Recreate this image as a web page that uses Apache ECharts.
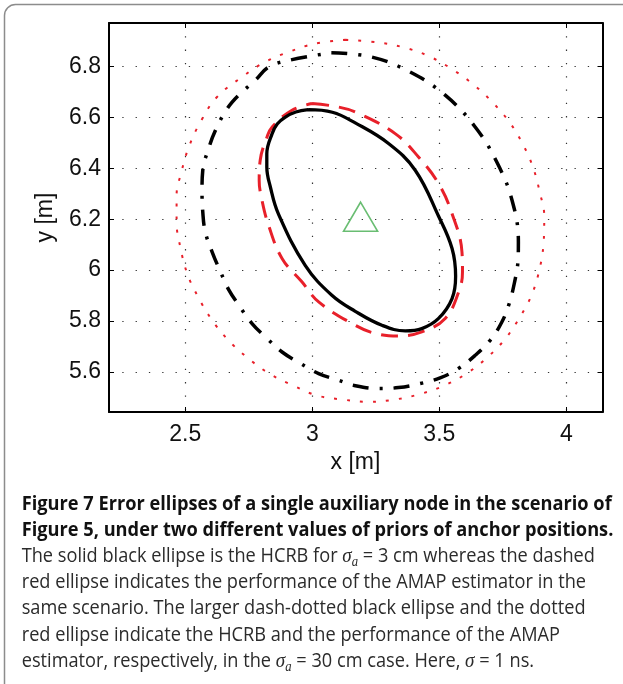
<!DOCTYPE html>
<html>
<head>
<meta charset="utf-8">
<script src="https://cdn.jsdelivr.net/npm/echarts@6/dist/echarts.min.js"></script>
<style>
  html, body { margin: 0; padding: 0; background: #fff; }
  #chart { width: 623px; height: 684px; }
</style>
</head>
<body>
<div id="chart"></div>
<script>
// Tick positions of the two axes
const xTicks = [2.5, 3, 3.5, 4];
const yTicks = [5.6, 5.8, 6, 6.2, 6.4, 6.6, 6.8];

// HCRB ellipse, sigma_a = 3 cm (solid black)
const hcrb3cm = [
  [2.984, 6.631], [3.079, 6.621], [3.169, 6.579], [3.300, 6.498], [3.405, 6.393],
  [3.497, 6.212], [3.550, 6.085], [3.564, 5.976], [3.550, 5.888], [3.497, 5.810],
  [3.431, 5.770], [3.366, 5.761], [3.274, 5.783], [3.169, 5.838], [3.077, 5.901],
  [2.972, 6.019], [2.867, 6.220], [2.835, 6.327], [2.821, 6.406], [2.821, 6.458],
  [2.842, 6.537], [2.862, 6.575], [2.894, 6.602], [2.935, 6.622], [2.984, 6.631]
];

// AMAP estimator ellipse, sigma_a = 3 cm (dashed red)
const amap3cm = [
  [2.999, 6.655], [3.090, 6.644], [3.169, 6.622], [3.326, 6.537], [3.418, 6.445],
  [3.497, 6.340], [3.550, 6.222], [3.589, 6.071], [3.591, 5.993], [3.576, 5.914],
  [3.523, 5.810], [3.431, 5.757], [3.339, 5.741], [3.248, 5.751], [3.169, 5.783],
  [3.025, 5.875], [2.959, 5.954], [2.881, 6.046], [2.828, 6.176], [2.802, 6.275],
  [2.791, 6.353], [2.795, 6.432], [2.822, 6.524], [2.842, 6.563], [2.920, 6.629],
  [2.999, 6.655]
];

// HCRB ellipse, sigma_a = 30 cm (dash-dotted black)
const hcrb30cm = [
  [3.075, 6.855], [3.235, 6.838], [3.385, 6.779], [3.523, 6.688], [3.641, 6.563],
  [3.726, 6.425], [3.786, 6.275], [3.811, 6.111], [3.809, 6.032], [3.796, 5.953],
  [3.775, 5.869], [3.746, 5.796], [3.700, 5.724], [3.641, 5.665], [3.575, 5.613],
  [3.503, 5.576], [3.425, 5.554], [3.339, 5.538], [3.261, 5.534], [3.162, 5.547],
  [3.103, 5.567], [3.025, 5.593], [2.953, 5.633], [2.881, 5.678], [2.822, 5.731],
  [2.763, 5.790], [2.711, 5.862], [2.672, 5.921], [2.639, 5.993], [2.606, 6.071],
  [2.579, 6.150], [2.569, 6.229], [2.566, 6.314], [2.569, 6.393], [2.592, 6.478],
  [2.619, 6.550], [2.665, 6.635], [2.710, 6.688], [2.776, 6.747], [2.828, 6.799],
  [2.907, 6.825], [3.075, 6.855]
];

// AMAP estimator ellipse, sigma_a = 30 cm (dotted red)
const amap30cm = [
  [3.130, 6.906], [3.263, 6.895], [3.363, 6.875], [3.460, 6.841], [3.549, 6.791],
  [3.634, 6.730], [3.708, 6.661], [3.775, 6.583], [3.827, 6.498], [3.868, 6.406],
  [3.895, 6.307], [3.913, 6.209], [3.912, 6.157], [3.910, 6.102], [3.894, 6.003],
  [3.864, 5.904], [3.818, 5.817], [3.760, 5.731], [3.689, 5.657], [3.608, 5.594],
  [3.517, 5.545], [3.422, 5.512], [3.324, 5.491], [3.221, 5.482], [3.119, 5.491],
  [3.018, 5.507], [2.923, 5.547], [2.831, 5.593], [2.742, 5.658], [2.667, 5.727],
  [2.603, 5.807], [2.551, 5.894], [2.508, 5.986], [2.481, 6.089], [2.466, 6.189],
  [2.466, 6.294], [2.485, 6.386], [2.514, 6.484], [2.560, 6.583], [2.625, 6.681],
  [2.724, 6.760], [2.815, 6.819], [2.907, 6.858], [3.012, 6.891], [3.130, 6.906]
];

// True position of the auxiliary node
const nodePos = [[3.19, 6.21]];

// Caption
const captionBold = [
  'Figure 7 Error ellipses of a single auxiliary node in the scenario of',
  'Figure 5, under two different values of priors of anchor positions.'
];
const captionBody = [
  'The solid black ellipse is the HCRB for {m|σ}{sub|a}{t| = 3 cm whereas the dashed}',
  'red ellipse indicates the performance of the AMAP estimator in the',
  'same scenario. The larger dash-dotted black ellipse and the dotted',
  'red ellipse indicate the HCRB and the performance of the AMAP',
  'estimator, respectively, in the {m|σ}{sub|a}{t| = 30 cm case. Here, }{m|σ}{t| = 1 ns.}'
];

const chart = echarts.init(document.getElementById('chart'), null, { renderer: 'canvas' });

const AXIS_FONT = 'Liberation Sans';
const AXIS_SIZE = 23;
const CAP_FONT = 'Open Sans';
const CAP_SIZE = 20;

function textWidth(text, font) {
  const ctx = document.createElement('canvas').getContext('2d');
  ctx.font = font;
  return ctx.measureText(text).width;
}
// horizontal compression so the caption keeps its narrow face
const boldScale = 590 / textWidth(captionBold[0], 'bold ' + CAP_SIZE + 'px "' + CAP_FONT + '"');
const bodyScale = 564.3 / textWidth(captionBody[1], CAP_SIZE + 'px "' + CAP_FONT + '"');

const capLeft = 21.7;
const baselines = [511, 537.3, 563.3, 589.3, 615.3, 642, 668.3];

const richStyles = {
  t: { fontSize: CAP_SIZE, fontFamily: CAP_FONT, fill: '#2b2b2b', lineHeight: 26 },
  m: { fontSize: CAP_SIZE + 1, fontFamily: 'Liberation Serif', fontStyle: 'italic', fill: '#2b2b2b', lineHeight: 26 },
  sub: { fontSize: 14, fontFamily: 'Liberation Serif', fontStyle: 'italic', fill: '#2b2b2b', lineHeight: 14, verticalAlign: 'bottom' }
};

const graphics = [
  {
    type: 'rect', silent: true, z: 0,
    shape: { x: 4.5, y: 4.5, width: 720, height: 760, r: 11 },
    style: { fill: 'none', stroke: '#8c8c8c', lineWidth: 1.5 }
  },
  {
    type: 'text', x: 355.5, y: 463, silent: true,
    style: { text: 'x [m]', font: AXIS_SIZE + 'px "' + AXIS_FONT + '"', fill: '#111', align: 'center', verticalAlign: 'middle' }
  },
  {
    type: 'text', x: 46, y: 217.5, rotation: Math.PI / 2, silent: true,
    style: { text: 'y [m]', font: AXIS_SIZE + 'px "' + AXIS_FONT + '"', fill: '#111', align: 'center', verticalAlign: 'middle' }
  }
];

captionBold.forEach((line, i) => {
  graphics.push({
    type: 'text', x: capLeft, y: baselines[i] - 7, scaleX: boldScale, silent: true,
    style: {
      text: line, font: 'bold ' + CAP_SIZE + 'px "' + CAP_FONT + '"',
      fill: '#111', align: 'left', verticalAlign: 'middle'
    }
  });
});
captionBody.forEach((line, i) => {
  graphics.push({
    type: 'text', x: capLeft, y: baselines[i + 2] - 7, scaleX: bodyScale, silent: true,
    style: {
      text: line, fontSize: CAP_SIZE, fontFamily: CAP_FONT,
      fill: '#2b2b2b', align: 'left', verticalAlign: 'middle', lineHeight: 26,
      rich: richStyles
    }
  });
});

const gridLine = { show: true, lineStyle: { color: '#333', width: 1.2, type: [1.3, 12] } };
const lineBase = { type: 'line', showSymbol: false, symbol: 'none', smooth: 0.4, animation: false, silent: true, clip: false };

chart.setOption({
  animation: false,
  backgroundColor: '#fff',
  grid: { left: 109, top: 23, width: 493.5, height: 389, containLabel: false },
  xAxis: [
    {
      type: 'value', min: 2.2, max: 4.142, position: 'bottom',
      axisLine: { onZero: false, lineStyle: { color: '#000', width: 2 } },
      axisTick: { inside: true, length: 5, customValues: xTicks, lineStyle: { color: '#000', width: 1 } },
      axisLabel: { customValues: xTicks, margin: 11, color: '#111', fontSize: AXIS_SIZE, fontFamily: AXIS_FONT },
      splitLine: gridLine
    },
    {
      type: 'value', min: 2.2, max: 4.142, position: 'top',
      axisLine: { onZero: false, lineStyle: { color: '#000', width: 2 } },
      axisTick: { inside: true, length: 5, customValues: xTicks, lineStyle: { color: '#000', width: 1 } },
      axisLabel: { show: false },
      splitLine: { show: false }
    }
  ],
  yAxis: [
    {
      type: 'value', min: 5.442, max: 6.972, position: 'left',
      axisLine: { onZero: false, lineStyle: { color: '#000', width: 2 } },
      axisTick: { inside: true, length: 5, customValues: yTicks, lineStyle: { color: '#000', width: 1 } },
      axisLabel: { customValues: yTicks, margin: 8, color: '#111', fontSize: AXIS_SIZE, fontFamily: AXIS_FONT },
      splitLine: gridLine
    },
    {
      type: 'value', min: 5.442, max: 6.972, position: 'right',
      axisLine: { onZero: false, lineStyle: { color: '#000', width: 2 } },
      axisTick: { inside: true, length: 5, customValues: yTicks, lineStyle: { color: '#000', width: 1 } },
      axisLabel: { show: false },
      splitLine: { show: false }
    }
  ],
  series: [
    Object.assign({}, lineBase, {
      name: 'AMAP, σa = 30 cm', data: amap30cm, z: 3,
      lineStyle: { color: '#e8202a', width: 2, type: [3, 10] }
    }),
    Object.assign({}, lineBase, {
      name: 'HCRB, σa = 30 cm', data: hcrb30cm, z: 4,
      lineStyle: { color: '#000', width: 3.5, type: [16, 11, 3, 11] }
    }),
    Object.assign({}, lineBase, {
      name: 'AMAP, σa = 3 cm', data: amap3cm, z: 5,
      lineStyle: { color: '#e8202a', width: 3, type: [17, 10] }
    }),
    Object.assign({}, lineBase, {
      name: 'HCRB, σa = 3 cm', data: hcrb3cm, z: 6,
      lineStyle: { color: '#000', width: 3.3, type: 'solid' }
    }),
    {
      type: 'scatter', name: 'node', data: nodePos, z: 7, silent: true,
      symbol: 'triangle', symbolSize: [34, 29],
      itemStyle: { color: 'rgba(0,0,0,0)', borderColor: '#43ad4f', borderWidth: 1.6 }
    }
  ],
  graphic: graphics
});
</script>
</body>
</html>
